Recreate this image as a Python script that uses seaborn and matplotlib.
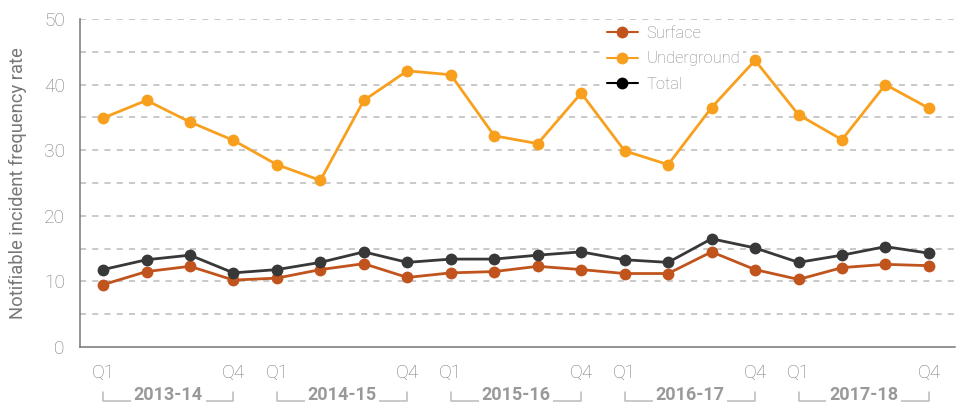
import numpy as np
import pandas as pd
import matplotlib
matplotlib.use("Agg")
import matplotlib.pyplot as plt
import matplotlib.transforms as mtransforms
from matplotlib.lines import Line2D
import seaborn as sns

years = ["2013-14", "2014-15", "2015-16", "2016-17", "2017-18"]
quarters = ["Q1", "Q2", "Q3", "Q4"]
surface = [9.5, 11.5, 12.3, 10.2, 10.5, 11.8, 12.7, 10.6, 11.3, 11.5,
           12.3, 11.8, 11.2, 11.2, 14.5, 11.8, 10.3, 12.1, 12.6, 12.4]
underground = [34.9, 37.6, 34.3, 31.5, 27.8, 25.4, 37.6, 42.1, 41.5, 32.2,
               31.0, 38.7, 29.9, 27.8, 36.5, 43.7, 35.4, 31.6, 40.0, 36.4]
total = [11.8, 13.3, 14.0, 11.3, 11.8, 12.9, 14.5, 12.9, 13.4, 13.4,
         14.0, 14.5, 13.3, 12.9, 16.5, 15.1, 12.9, 14.0, 15.3, 14.3]
series_names = ["Surface", "Underground", "Total"]
colors = {"Surface": "#C1541D", "Underground": "#F8A01E", "Total": "#383838"}
legend_colors = {"Surface": "#C1541D", "Underground": "#F8A01E", "Total": "#000000"}

period_year = [y for y in years for q in quarters]
period_q = [q for y in years for q in quarters]
idx = list(range(len(period_q)))

df = pd.concat([
    pd.DataFrame({"idx": idx, "year": period_year, "quarter": period_q,
                  "value": vals, "series": name})
    for name, vals in zip(series_names, [surface, underground, total])
])

sns.set_theme(style="white")
plt.rcParams["font.family"] = ["Roboto", "DejaVu Sans"]
plt.rcParams["font.weight"] = "light"

TICK_FS = 13.8
YLAB_FS = 13.2
YEAR_FS = 13
LEG_FS = 11.9

fig = plt.figure(figsize=(9.62, 4.05), dpi=100)
ax = fig.add_axes([80 / 962, 1 - 347 / 405, 875 / 962, 328 / 405])

sns.lineplot(data=df, x="idx", y="value", hue="series", hue_order=series_names,
             palette=colors, marker="o", markersize=8.5, markeredgewidth=0,
             linewidth=2, ax=ax, legend=False, zorder=3)

ax.set_ylim(0, 50)
ax.set_xlim(-0.53, 19.6)
ax.set_yticks(range(0, 51, 10))
for yv in range(5, 51, 5):
    ax.axhline(yv, color="#BBBBBB", lw=1.1, ls=(0, (4, 4)), zorder=1)

tick_pos = [i for i, q in enumerate(period_q) if q in ("Q1", "Q4")]
ax.set_xticks(tick_pos)
ax.set_xticklabels([period_q[i] for i in tick_pos])
ax.tick_params(axis="x", length=6, width=1, color="#BBBBBB", labelcolor="#777777",
               labelsize=TICK_FS, pad=6)
ax.tick_params(axis="y", length=0, labelcolor="#777777", labelsize=TICK_FS, pad=11)

for s in ["top", "right"]:
    ax.spines[s].set_visible(False)
for s in ["left", "bottom"]:
    ax.spines[s].set_color("#777777")
    ax.spines[s].set_linewidth(1.1)

ax.set_xlabel("")
ax.set_ylabel("Notifiable incident frequency rate", color="#777777", fontsize=YLAB_FS,
              labelpad=12)

# year brackets
trans = mtransforms.blended_transform_factory(ax.transData, ax.transAxes)
y_bot = -(401 - 347) / 328
y_top = -(392 - 347) / 328
y_txt = -(395 - 347) / 328
for yr in years:
    pos = [i for i, y in enumerate(period_year) if y == yr]
    x0, x1 = pos[0], pos[-1]
    ax.plot([x0, x0, x1, x1], [y_top, y_bot, y_bot, y_top], transform=trans,
            color="#BBBBBB", lw=1.1, clip_on=False, zorder=1)
    ax.text((x0 + x1) / 2, y_txt, yr, transform=trans, ha="center", va="center",
            fontsize=YEAR_FS, fontweight="bold", color="#999999",
            bbox=dict(facecolor="white", edgecolor="none", pad=2), zorder=2)

# legend
handles = [Line2D([], [], color=legend_colors[n], lw=1.5, marker="o",
                  markersize=8.5, markeredgewidth=0) for n in series_names]
leg = ax.legend(handles, series_names, loc="upper left", bbox_to_anchor=(0.598, 0.988),
                frameon=True, facecolor="white", edgecolor="none", framealpha=1,
                fontsize=LEG_FS, handlelength=1.9, handletextpad=0.5,
                labelspacing=0.62, borderpad=0.2, borderaxespad=0)
for t in leg.get_texts():
    t.set_color("#888888")
leg.set_zorder(2)

fig.savefig("out.png", dpi=100)
